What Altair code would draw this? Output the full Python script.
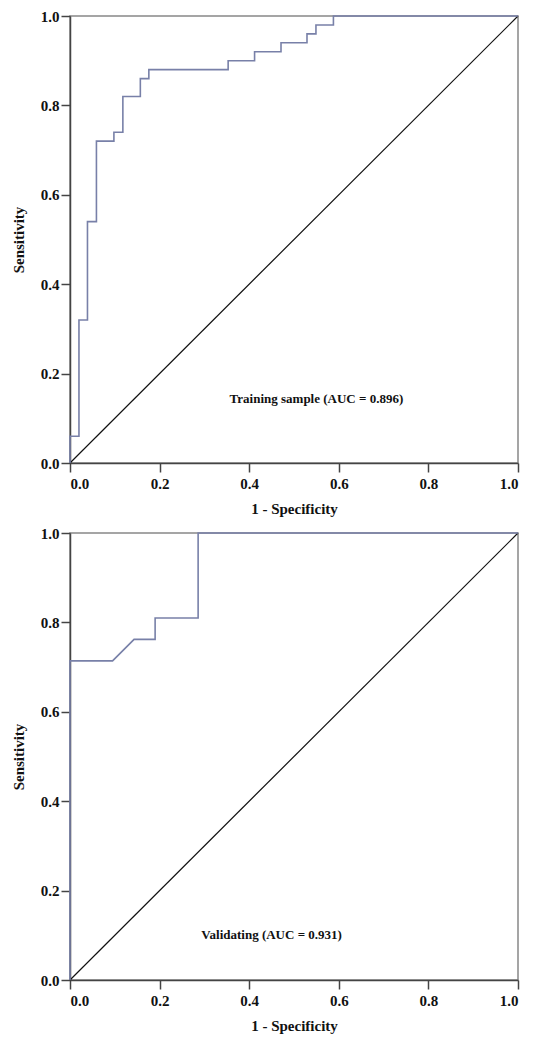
import altair as alt
import pandas as pd

# Training ROC curve (1 - specificity, sensitivity)
train_fpr = [0.0, 0.0, 0.020, 0.020, 0.039, 0.039, 0.059, 0.059, 0.098, 0.098,
             0.118, 0.118, 0.157, 0.157, 0.176, 0.176, 0.353, 0.353, 0.412, 0.412,
             0.471, 0.471, 0.529, 0.529, 0.549, 0.549, 0.588, 0.588, 1.0]
train_tpr = [0.0, 0.06, 0.06, 0.32, 0.32, 0.54, 0.54, 0.72, 0.72, 0.74,
             0.74, 0.82, 0.82, 0.86, 0.86, 0.88, 0.88, 0.90, 0.90, 0.92,
             0.92, 0.94, 0.94, 0.96, 0.96, 0.98, 0.98, 1.0, 1.0]

# Validation ROC curve
valid_fpr = [0.0, 0.0, 0.095, 0.143, 0.190, 0.190, 0.286, 0.286, 1.0]
valid_tpr = [0.0, 0.714, 0.714, 0.762, 0.762, 0.810, 0.810, 1.0, 1.0]

ref_line = [0.0, 1.0]
tick_values = [0.0, 0.2, 0.4, 0.6, 0.8, 1.0]

train_label = "Training sample (AUC = 0.896)"
valid_label = "Validating (AUC = 0.931)"

FONT = "Liberation Serif"
CURVE = "#7880a8"


def panel(fpr, tpr, label, lx, ly):
    df = pd.DataFrame({"fpr": fpr, "tpr": tpr, "i": list(range(len(fpr)))})
    diag_df = pd.DataFrame({"fpr": ref_line, "tpr": ref_line})
    txt_df = pd.DataFrame({"fpr": [lx], "tpr": [ly], "t": [label]})

    x = alt.X("fpr:Q", scale=alt.Scale(domain=[0, 1], nice=False),
              axis=alt.Axis(values=tick_values, format=".1f", title="1 - Specificity",
                            grid=False, labelPadding=4, titlePadding=10))
    y = alt.Y("tpr:Q", scale=alt.Scale(domain=[0, 1], nice=False),
              axis=alt.Axis(values=tick_values, format=".1f", title="Sensitivity",
                            grid=False, labelPadding=2, titlePadding=14))

    diag = alt.Chart(diag_df).mark_line(color="#111111", strokeWidth=1.2).encode(x=x, y=y)
    curve = alt.Chart(df).mark_line(color=CURVE, strokeWidth=1.6).encode(
        x=x, y=y, order="i:Q")
    text = alt.Chart(txt_df).mark_text(
        font=FONT, fontSize=13, fontWeight="bold", color="#111111"
    ).encode(x=x, y=y, text="t:N")
    return alt.layer(diag, curve, text).properties(width=448, height=447)


top = panel(train_fpr, train_tpr, train_label, 0.55, 0.143)
bottom = panel(valid_fpr, valid_tpr, valid_label, 0.45, 0.10)

chart = alt.vconcat(top, bottom, spacing=8).configure_axis(
    labelFont=FONT, labelFontSize=15, labelFontWeight="bold", labelColor="#111111",
    titleFont=FONT, titleFontSize=15, titleFontWeight="bold", titleColor="#111111",
    domainColor="#444444", domainWidth=1.5, tickColor="#444444", tickWidth=1.5,
    tickSize=9,
).configure_view(stroke="#888888", strokeWidth=1.5).properties(
    padding={"left": 2, "top": 0, "right": 5, "bottom": 5}
)

chart.save("out.html", embed_options={"renderer": "svg", "actions": False})
